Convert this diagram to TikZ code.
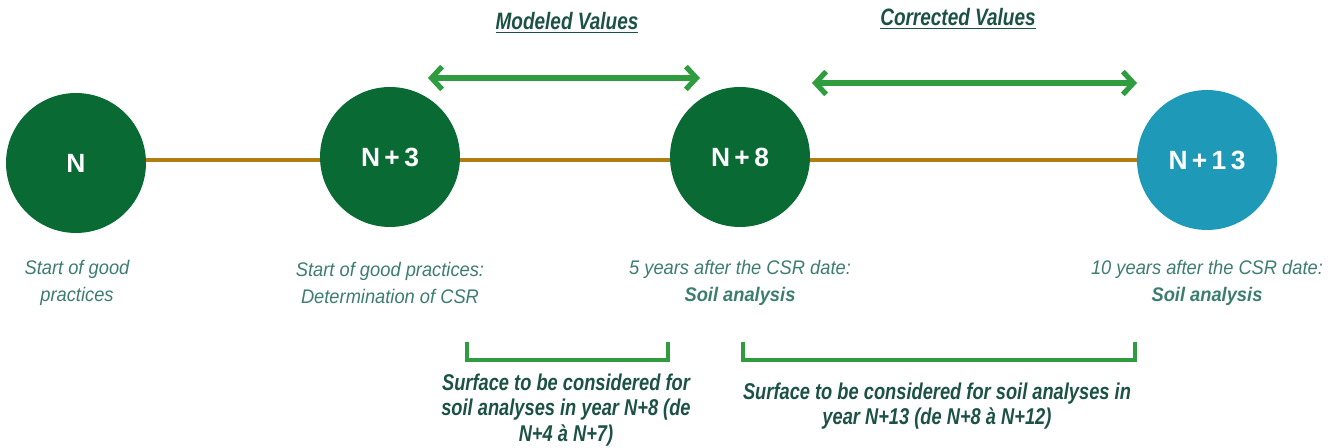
\documentclass[tikz,border=0pt]{standalone}
\usepackage{fontspec}
\setmainfont{Liberation Sans}
\newfontfamily\narrowfont[FakeStretch=0.8]{Liberation Sans}
\newfontfamily\capfont[FakeStretch=0.93]{Liberation Sans}
\usepackage{tikz}
\usetikzlibrary{arrows.meta,calc,backgrounds}
\definecolor{dkgreen}{RGB}{10,106,52}
\definecolor{skyteal}{RGB}{30,154,184}
\definecolor{rodbrown}{RGB}{176,125,18}
\definecolor{arrgreen}{RGB}{46,156,63}
\definecolor{captext}{RGB}{61,125,112}
\definecolor{notetext}{RGB}{28,82,68}

\begin{document}
\begin{tikzpicture}[x=0.02cm, y=-0.02cm]
\tikzstyle{year}=[circle, fill=dkgreen, minimum size=2.8cm, inner sep=0pt, text=white, font=\bfseries\fontsize{15}{17}\selectfont]
\tikzstyle{late}=[year, fill=skyteal]
\tikzstyle{caption}=[align=center, text=captext, font=\capfont\itshape\fontsize{11.2}{15.5}\selectfont]
\tikzstyle{note}=[align=center, text=notetext, font=\narrowfont\bfseries\itshape\fontsize{13}{14.3}\selectfont]
\tikzstyle{heading}=[text=notetext, font=\narrowfont\bfseries\itshape\fontsize{13.5}{15}\selectfont]
\tikzstyle{timeline}=[draw=rodbrown, line width=2.8pt]
\tikzstyle{span}=[draw=arrgreen, line width=3.2pt, {Straight Barb[length=6pt, width=13pt, line width=3pt]}-{Straight Barb[length=6pt, width=13pt, line width=3pt]}]
\tikzstyle{bracket}=[draw=arrgreen, line width=2.6pt]

\useasboundingbox (0,0) rectangle (1343,448);

  % years on the timeline
  \node[year] (N)   at (76,163)   {N};
  \node[year] (N3)  at (390,157)  {N\,+\,3};
  \node[year] (N8)  at (740,157)  {N\,+\,8};
  \node[late] (N13) at (1207,160) {N\,+\,1\,3};

  \coordinate (axis) at (0,160);
  \begin{pgfonlayer}{background}
  \draw[timeline] (N.center |- axis) -- (N13.center |- axis);
  \end{pgfonlayer}

  % captions under the circles
  \node[caption] (capN)   at (77,283)   {Start of good\\practices};
  \node[caption] (capN3)  at (390,283)  {Start of good practices:\\Determination of CSR};
  \node[caption] (capN8)  at (740,283)  {5 years after the CSR date:\\\textbf{Soil analysis}};
  \node[caption] (capN13) at (1207,283) {10 years after the CSR date:\\\textbf{Soil analysis}};

  % value ranges
  \node[heading] (modeled)   at (567,23) {\underline{Modeled Values}};
  \node[heading] (corrected) at (958,19) {\underline{Corrected Values}};

  \coordinate (mA) at (428,78);
  \coordinate (mB) at (700,78);
  \coordinate (cA) at (812,83);
  \coordinate (cB) at (1137,83);
  \path (mA) edge [span] (mB);
  \path (cA) edge [span] (cB);

  % surfaces
  \coordinate (sA) at (467,342);
  \coordinate (sB) at (668,342);
  \coordinate (tA) at (743,342);
  \coordinate (tB) at (1135,342);
  \draw[bracket] (sA) -- ++(0,18) -| (sB);
  \draw[bracket] (tA) -- ++(0,18) -| (tB);

  \node[note] (surf1) at (566,410) {Surface to be considered for\\soil analyses in year N+8 (de\\N+4 à N+7)};
  \node[note] (surf2) at (937,406) {Surface to be considered for soil analyses in\\year N+13 (de N+8 à N+12)};

\end{tikzpicture}
\end{document}
